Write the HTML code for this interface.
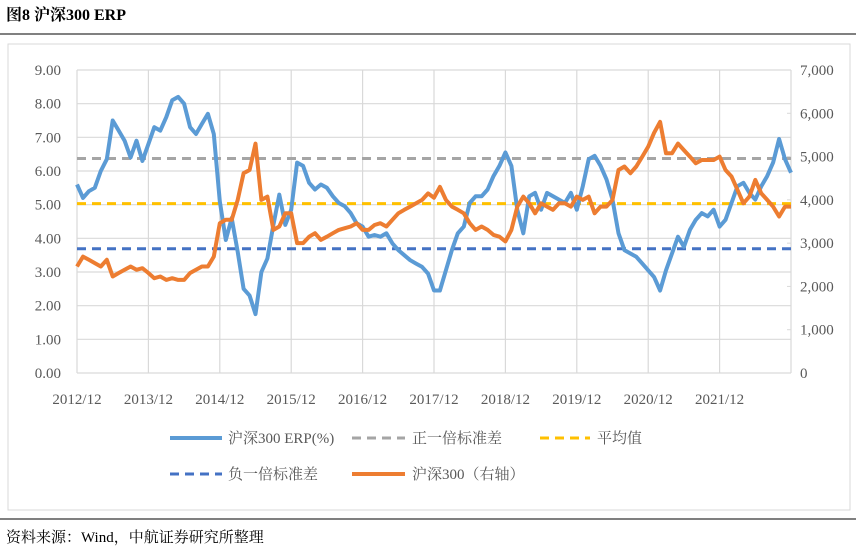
<!DOCTYPE html>
<html><head><meta charset="utf-8"><style>
body{margin:0;background:#fff;width:856px;height:547px;overflow:hidden;font-family:"Liberation Serif","Noto Serif CJK SC",serif;}
svg text{font-family:"Liberation Serif","Noto Serif CJK SC",serif;}
</style></head><body>
<svg id="c" width="856" height="547">
<text x="6" y="20" font-size="16" font-weight="bold" fill="#000">图8  沪深300 ERP</text>
<line x1="0" y1="34" x2="856" y2="34" stroke="#000" stroke-width="1"/>
<rect x="8" y="44" width="842" height="466" fill="none" stroke="#d9d9d9"/>
<line x1="0" y1="519" x2="856" y2="519" stroke="#000" stroke-width="1"/>
<text x="6" y="542" font-size="15" fill="#000">资料来源：Wind，中航证券研究所整理</text>
<g id="grid"></g><g id="series"></g><g id="axes"></g>
<g id="legend" font-size="15" fill="#595959">
<line x1="170" y1="438" x2="222" y2="438" stroke="#5b9bd5" stroke-width="4"/>
<text x="228" y="443" fill="#595959">沪深300 ERP(%)</text>
<line x1="352" y1="438" x2="405" y2="438" stroke="#a5a5a5" stroke-width="3" stroke-dasharray="9 6"/>
<text x="412" y="443" fill="#595959">正一倍标准差</text>
<line x1="540" y1="438" x2="590" y2="438" stroke="#ffc000" stroke-width="3" stroke-dasharray="9 6"/>
<text x="597" y="443" fill="#595959">平均值</text>
<line x1="170" y1="474" x2="222" y2="474" stroke="#4472c4" stroke-width="3" stroke-dasharray="9 6"/>
<text x="228" y="479" fill="#595959">负一倍标准差</text>
<line x1="352" y1="474" x2="405" y2="474" stroke="#ed7d31" stroke-width="4"/>
<text x="412" y="479" fill="#595959">沪深300（右轴）</text>
</g>
</svg>
<script>
const xLabels=["2012/12","2013/12","2014/12","2015/12","2016/12","2017/12","2018/12","2019/12","2020/12","2021/12"];
const leftTicks=[0,1,2,3,4,5,6,7,8,9];
const rightTicks=[0,1000,2000,3000,4000,5000,6000,7000];
const plusSD=6.37, meanVal=5.03, minusSD=3.69;
const erp=[5.6,
5.2,5.4,5.5,6.0,6.35,7.5,7.2,6.9,6.4,6.9,6.3,6.8,
7.3,7.2,7.6,8.1,8.2,8.0,7.3,7.1,7.4,7.7,7.1,5.1,
3.95,4.6,3.6,2.5,2.3,1.75,3.0,3.4,4.4,5.3,4.4,4.85,
6.25,6.15,5.65,5.45,5.6,5.5,5.25,5.05,4.95,4.75,4.45,4.35,
4.05,4.1,4.05,4.15,3.85,3.65,3.5,3.35,3.25,3.15,2.95,2.45,
2.45,3.05,3.65,4.15,4.35,5.05,5.25,5.25,5.45,5.85,6.15,6.55,
6.15,4.85,4.15,5.25,5.35,4.85,5.35,5.25,5.15,5.05,5.35,4.85,
5.55,6.35,6.45,6.15,5.75,5.15,4.15,3.65,3.55,3.45,3.25,3.05,
2.85,2.45,3.05,3.55,4.05,3.75,4.25,4.55,4.75,4.65,4.85,4.35,
4.55,5.05,5.55,5.65,5.35,5.15,5.55,5.85,6.25,6.95,6.35,5.95];
const csi300=[2460,
2690,2615,2540,2460,2615,2230,2310,2385,2460,2385,2420,2310,
2190,2230,2150,2190,2150,2150,2310,2385,2460,2460,2690,3460,
3540,3540,4000,4615,4690,5300,4000,4075,3305,3385,3690,3690,
3000,3000,3150,3230,3075,3150,3230,3305,3345,3385,3460,3305,
3305,3420,3460,3385,3540,3690,3770,3845,3920,4000,4150,4050,
4300,4000,3845,3770,3690,3460,3305,3385,3305,3190,3150,3040,
3305,3845,4075,3920,3690,3920,3845,3770,3920,3920,3845,4075,
4000,4075,3690,3845,3845,4000,4690,4770,4615,4770,5000,5230,
5550,5800,5075,5075,5300,5150,5000,4845,4920,4920,4920,5000,
4690,4540,4230,3920,4075,4460,4150,4000,3845,3615,3845,3845];

const NS="http://www.w3.org/2000/svg";
const L=77,R=791,T=70,B=373;
const xi=i=>L+(R-L)*i/(erp.length-1);
const yl=v=>B-(B-T)*v/9;
const yr=v=>B-(B-T)*v/7000;
function mk(parent,tag,attrs){const e=document.createElementNS(NS,tag);for(const k in attrs)e.setAttribute(k,attrs[k]);document.getElementById(parent).appendChild(e);return e;}
leftTicks.forEach(v=>{
  const g=mk('grid','line',{x1:L,x2:R,y1:yl(v),y2:yl(v),stroke:'#d9d9d9','stroke-width':1.2});
  
  
  const t=mk('axes','text',{x:61,y:yl(v)+5,'text-anchor':'end','font-size':15,fill:'#595959'});
  t.textContent=v.toFixed(2);
  
  
});
rightTicks.forEach(v=>{
  const t=mk('axes','text',{x:800,y:yr(v)+5,'font-size':15,fill:'#595959'});
  t.textContent=v.toLocaleString('en-US');
  
  
  const k=mk('axes','line',{x1:R-4,x2:R,y1:yr(v),y2:yr(v),stroke:'#d9d9d9'});
  
  
});
xLabels.forEach((s,j)=>{
  const x=xi(j*12);
  const g=mk('grid','line',{x1:x,x2:x,y1:T,y2:B,stroke:'#d9d9d9','stroke-width':1.2});
  
  
  const t=mk('axes','text',{x:x,y:404,'text-anchor':'middle','font-size':15,fill:'#595959'});
  t.textContent=s;
  
  
});
const rb=mk('grid','line',{x1:R,x2:R,y1:T,y2:B,stroke:'#d9d9d9','stroke-width':1.2});


function path(arr,yf){return arr.map((v,i)=>(i?'L':'M')+xi(i).toFixed(1)+','+yf(v).toFixed(1)).join('');}
const ref=[[plusSD,'#a5a5a5','plus-sd-line'],[meanVal,'#ffc000','mean-line'],[minusSD,'#4472c4','minus-sd-line']];
ref.forEach(r=>{
  const e=mk('series','line',{x1:L,x2:R,y1:yl(r[0]),y2:yl(r[0]),stroke:r[1],'stroke-width':3,'stroke-dasharray':'9 6'});
  
  
});
const pb=mk('series','path',{d:path(erp,yl),fill:'none',stroke:'#5b9bd5','stroke-width':4,'stroke-linejoin':'round'});


const po=mk('series','path',{d:path(csi300,yr),fill:'none',stroke:'#ed7d31','stroke-width':4,'stroke-linejoin':'round'});


</script>
</body></html>
